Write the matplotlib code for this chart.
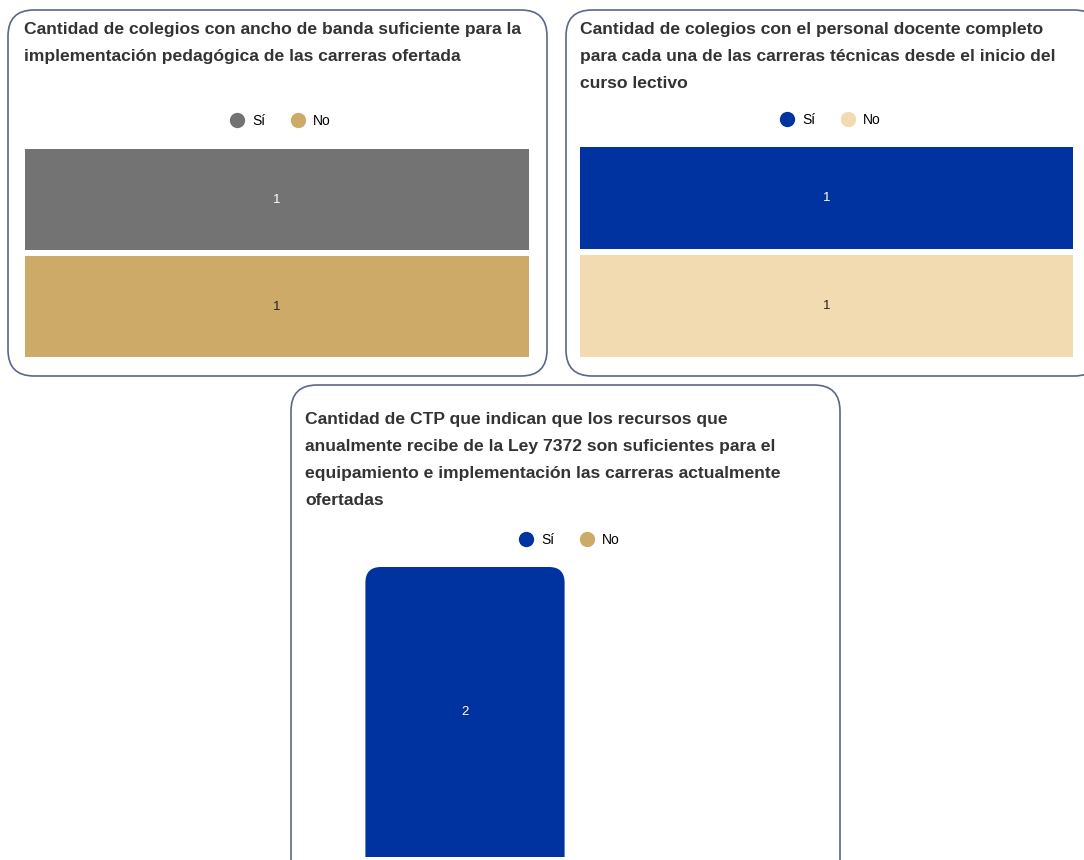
import matplotlib.pyplot as plt
from matplotlib.lines import Line2D
from matplotlib.patches import FancyBboxPatch

plt.rcParams["font.family"] = ["Liberation Sans", "DejaVu Sans"]

W, H = 1084, 860

# ------------------------------------------------------
# data
categories = ["Sí", "No"]

title_ancho = "Cantidad de colegios con ancho de banda suficiente para la\nimplementación pedagógica de las carreras ofertada"
ancho_values = [1, 1]

title_docente = "Cantidad de colegios con el personal docente completo\npara cada una de las carreras técnicas desde el inicio del\ncurso lectivo"
docente_values = [1, 1]

title_ley = "Cantidad de CTP que indican que los recursos que\nanualmente recibe de la Ley 7372 son suficientes para el\nequipamiento e implementación las carreras actualmente\nofertadas"
ley_values = [2, 0]

colors_ancho = ["#737373", "#cdaa67"]
colors_docente = ["#0033a0", "#f2dbb0"]
colors_ley = ["#0033a0", "#cdaa67"]


def px_rect(x0, y0, x1, y1):
    return [x0 / W, 1 - y1 / H, (x1 - x0) / W, (y1 - y0) / H]


fig = plt.figure(figsize=(W / 100, H / 100), dpi=100)

# background layer in pixel units for the card borders and titles
bg = fig.add_axes([0, 0, 1, 1])
bg.set_xlim(0, W)
bg.set_ylim(H, 0)
bg.axis("off")

for x0, y0, x1, y1 in [(8, 10, 547, 376), (566, 10, 1100, 376), (291, 385, 840, 890)]:
    bg.add_patch(FancyBboxPatch((x0, y0), x1 - x0, y1 - y0,
                                boxstyle="round,pad=0,rounding_size=26",
                                facecolor="white", edgecolor="#5b6788", linewidth=1.2))

title_kw = dict(fontsize=12.6, fontweight="bold", color="#333333", va="top", ha="left", linespacing=2.0)
bg.text(24, 22, title_ancho, **title_kw)
bg.text(580, 22, title_docente, **title_kw)
bg.text(305, 412, title_ley, **title_kw)


def add_legend(colors, cx, cy):
    handles = [Line2D([], [], marker="o", linestyle="", markersize=10,
                      markerfacecolor=c, markeredgecolor=c) for c in colors]
    fig.legend(handles, categories, loc="center", ncol=2, frameon=False,
               bbox_to_anchor=(cx / W, 1 - cy / H), fontsize=10,
               handletextpad=0.1, columnspacing=1.3, borderpad=0)


def hbar_panel(rect, values, colors, text_colors):
    ax = fig.add_axes(px_rect(*rect))
    bars = ax.barh(categories, values, color=colors, height=0.94)
    ax.set_xlim(0, 1)
    ax.set_ylim(1.5, -0.5)
    ax.axis("off")
    for b, v, tc in zip(bars, values, text_colors):
        ax.text(b.get_x() + b.get_width() / 2, b.get_y() + b.get_height() / 2, str(v),
                ha="center", va="center", fontsize=9.5, color=tc)
    return ax


hbar_panel((25, 146, 529, 360), ancho_values, colors_ancho, ["white", "#222222"])
add_legend(colors_ancho, 277, 121)

hbar_panel((580, 144, 1073, 360), docente_values, colors_docente, ["white", "#222222"])
add_legend(colors_docente, 827, 120)

# vertical bar with rounded top, bottom runs off the card
ax3 = fig.add_axes(px_rect(345, 567, 825, 857))
bars = ax3.bar(categories, ley_values, width=0.83, color="none")
ax3.set_xlim(-0.5, 1.5)
ax3.set_ylim(0, 2)
ax3.axis("off")
aspect = (2 / 290) / (2 / 480)
for b, v, c in zip(bars, ley_values, colors_ley):
    if v == 0:
        continue
    ext = b.get_height() * 0.2
    ax3.add_patch(FancyBboxPatch((b.get_x(), b.get_y() - ext), b.get_width(), b.get_height() + ext,
                                 boxstyle="round,pad=0,rounding_size=0.065",
                                 mutation_aspect=aspect, facecolor=c, edgecolor="none"))
    ax3.text(b.get_x() + b.get_width() / 2, v / 2, str(v),
             ha="center", va="center", fontsize=9.5, color="white")
add_legend(colors_ley, 566, 540)

fig.savefig("out.png", dpi=100)
